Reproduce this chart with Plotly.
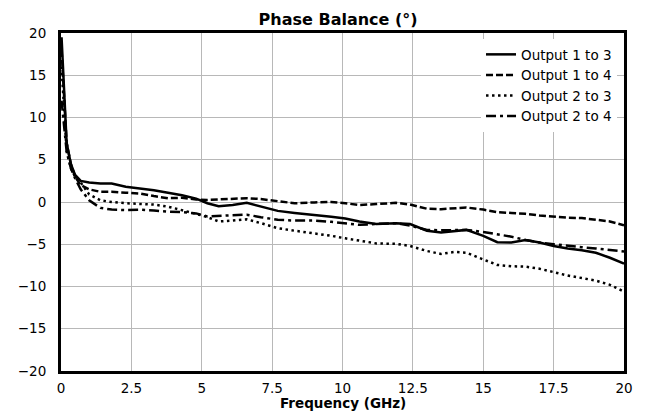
import plotly.graph_objects as go

freq = [0.02, 0.1, 0.2, 0.35, 0.5, 0.7, 1.0, 1.4, 1.8, 2.3, 2.8, 3.3, 3.8, 4.3, 4.8,
        5.2, 5.6, 6.1, 6.6, 7.1, 7.7, 8.3, 9.0, 9.6, 10.1, 10.6, 11.2, 11.9, 12.4,
        13.0, 13.5, 14.0, 14.4, 15.0, 15.5, 16.0, 16.5, 17.0, 17.5, 18.0, 18.5,
        19.0, 19.5, 20.0]

out_1_3 = [19.5, 14, 7, 4.5, 3.2, 2.5, 2.3, 2.2, 2.2, 1.8, 1.6, 1.4, 1.1, 0.8, 0.4,
           -0.15, -0.5, -0.35, -0.1, -0.5, -1.05, -1.3, -1.5, -1.75, -1.95, -2.3, -2.6,
           -2.5, -2.6, -3.4, -3.6, -3.4, -3.3, -4.0, -4.75, -4.8, -4.5, -4.8, -5.2,
           -5.5, -5.7, -6.0, -6.6, -7.3]

out_1_4 = [18, 13, 7, 4.5, 3.0, 2.0, 1.5, 1.2, 1.2, 1.1, 1.0, 0.7, 0.45, 0.5, 0.3,
           0.25, 0.3, 0.35, 0.45, 0.35, 0.1, -0.15, -0.05, 0.0, -0.15, -0.35, -0.25,
           -0.1, -0.3, -0.8, -0.85, -0.7, -0.65, -0.9, -1.2, -1.3, -1.4, -1.6, -1.75,
           -1.85, -1.9, -2.1, -2.3, -2.75]

out_2_3 = [16, 11, 6, 4, 3, 2.3, 0.9, 0.2, 0.0, -0.15, -0.2, -0.3, -0.55, -0.95, -1.4,
           -1.8, -2.3, -2.2, -2.05, -2.5, -3.1, -3.4, -3.7, -4.0, -4.3, -4.6, -4.9,
           -4.95, -5.2, -5.8, -6.15, -5.9, -6.0, -6.8, -7.45, -7.6, -7.65, -7.9, -8.3,
           -8.7, -9.0, -9.3, -9.8, -10.6]

out_2_4 = [12, 9, 6, 4, 2.8, 1.5, 0.2, -0.7, -0.9, -0.95, -0.9, -1.0, -1.15, -1.2, -1.35,
           -1.7, -1.65, -1.6, -1.5, -1.8, -2.1, -2.2, -2.2, -2.35, -2.5, -2.7, -2.6,
           -2.5, -2.8, -3.3, -3.35, -3.3, -3.3, -3.55, -3.8, -4.1, -4.5, -4.8, -5.0,
           -5.2, -5.35, -5.5, -5.65, -5.85]

series = [
    ("Output 1 to 3", out_1_3, "solid"),
    ("Output 1 to 4", out_1_4, "7px,3px"),
    ("Output 2 to 3", out_2_3, "2.5px,3.5px"),
    ("Output 2 to 4", out_2_4, "10px,4px,3px,4px"),
]

x_ticks = [0, 2.5, 5, 7.5, 10, 12.5, 15, 17.5, 20]
y_ticks = [-20, -15, -10, -5, 0, 5, 10, 15, 20]

fig = go.Figure()
for name, vals, dash in series:
    fig.add_trace(go.Scatter(x=freq, y=vals, mode="lines", name=name,
                             line=dict(color="black", width=2.5, dash=dash)))

font = "DejaVu Sans, sans-serif"
fig.update_layout(
    width=641, height=407,
    margin=dict(l=53, r=25, t=25, b=44, autoexpand=False),
    paper_bgcolor="white", plot_bgcolor="white",
    font=dict(family=font, size=13.5, color="black"),
    title=dict(text="<b>Phase Balance (°)</b>", x=0.515, xanchor="center",
               y=0.973, yanchor="middle", font=dict(size=16)),
    legend=dict(x=0.9876, xanchor="right", y=0.982, yanchor="top",
                bgcolor="white", borderwidth=0, font=dict(size=13.5),
                tracegroupgap=0, itemwidth=30),
    showlegend=True,
    annotations=[dict(text="<b>Frequency (GHz)</b>", xref="paper", yref="paper",
                      x=0.5, y=-0.0947, xanchor="center", yanchor="middle",
                      showarrow=False, font=dict(size=13.5))],
)
fig.update_xaxes(range=[0, 20], tickvals=x_ticks, ticktext=[str(v) for v in x_ticks],
                 showgrid=True, gridcolor="#b8b8b8", gridwidth=1,
                 showline=True, linecolor="black", linewidth=3, mirror=True,
                 zeroline=False, ticks="", ticklabelstandoff=3, automargin=False)
fig.update_yaxes(range=[-20, 20], tickvals=y_ticks,
                 showgrid=True, gridcolor="#b8b8b8", gridwidth=1,
                 showline=True, linecolor="black", linewidth=3, mirror=True,
                 zeroline=False, ticks="", ticklabelstandoff=9, automargin=False)

fig.write_html("out.html")
